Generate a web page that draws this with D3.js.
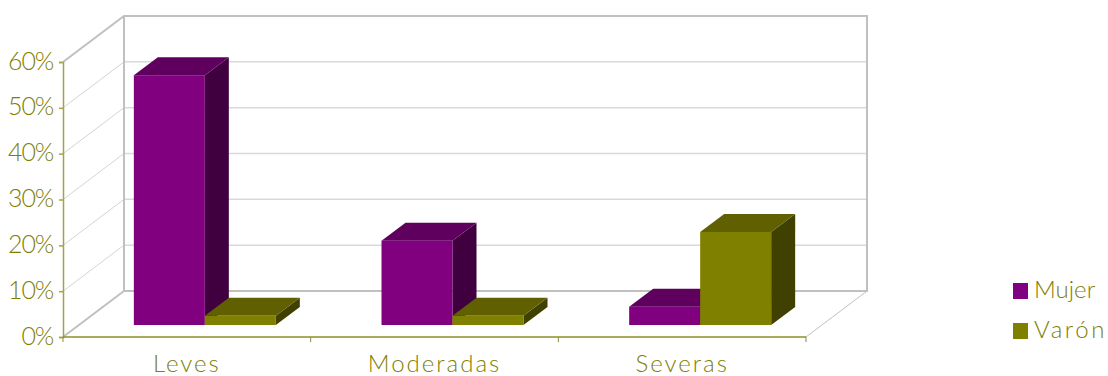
<!DOCTYPE html>
<html><head><meta charset="utf-8"><title>Chart</title>
<script src="https://cdn.jsdelivr.net/npm/d3@7/dist/d3.min.js"></script>
<style>html,body{margin:0;padding:0;background:#fff}svg{display:block}text{font-family:Lato,sans-serif;font-weight:300;fill:#808000}</style>
</head><body><svg id="c" width="1108" height="376"></svg>
<script>
const categories = ["Leves","Moderadas","Severas"];
const seriesNames = ["Mujer","Varón"];
const mujer = [54.5, 18.4, 4];
const varon = [2, 2, 20.3];
const yTicks = [0,10,20,30,40,50,60];
const colors = {Mujer:{front:"#800080",top:"#5f005f",side:"#400040"},"Varón":{front:"#808000",top:"#606000",side:"#404000"}};

const svg = d3.select("#c");
const L=63,R=806,B=337,T=62;
const wallDx=61,wallDy=46,barShiftX=18,barShiftY=12,depthX=24,depthY=18;
const x = d3.scaleBand().domain(categories).range([L,R]);
const inner = d3.scaleBand().domain(seriesNames).range([x.bandwidth()/2-71,x.bandwidth()/2+71]);
const y = d3.scaleLinear().domain([0,60]).range([B,T]);

// gridlines
const grid = svg.append("g");
yTicks.filter(d=>d>0&&d<60).forEach(d=>{
  grid.append("line").attr("x1",L).attr("y1",y(d)).attr("x2",L+wallDx).attr("y2",y(d)-wallDy).attr("stroke","#d4d4d4").attr("stroke-width",1);
});
yTicks.filter(d=>d>0).forEach(d=>{
  if(d===60) return;
  grid.append("line").attr("x1",L+wallDx).attr("y1",y(d)-wallDy).attr("x2",R+wallDx).attr("y2",y(d)-wallDy).attr("stroke","#d9d9d9").attr("stroke-width",1.5);
});
// walls
const wall = svg.append("g").attr("fill","none").attr("stroke","#c0c0c0");
wall.append("path").attr("stroke-width",2).attr("d",`M${L},${y(60)}L${L+wallDx},${y(60)-wallDy}H${R+wallDx}V${y(0)-wallDy}H${L+wallDx}V${y(60)-wallDy}`);
wall.append("path").attr("stroke-width",2).attr("d",`M${L},${y(0)}L${L+wallDx},${y(0)-wallDy}`);
wall.append("path").attr("stroke-width",1).attr("d",`M${R},${y(0)}L${R+wallDx},${y(0)-wallDy}`);

// bars
const rows = categories.flatMap((c,i)=>[{c,s:"Mujer",v:mujer[i]},{c,s:"Varón",v:varon[i]}]);
const bars = svg.append("g").selectAll("g").data(rows).join("g");
const bx = d=>x(d.c)+inner(d.s)+barShiftX, bw = inner.bandwidth();
const by = d=>y(d.v)-barShiftY, bb = ()=>y(0)-barShiftY;
bars.append("path").attr("fill",d=>colors[d.s].side)
  .attr("d",d=>`M${bx(d)+bw},${by(d)}l${depthX},${-depthY}V${bb()-depthY}l${-depthX},${depthY}Z`);
bars.append("path").attr("fill",d=>colors[d.s].top)
  .attr("d",d=>`M${bx(d)},${by(d)}l${depthX},${-depthY}h${bw}l${-depthX},${depthY}Z`);
bars.append("rect").attr("fill",d=>colors[d.s].front)
  .attr("x",bx).attr("y",by).attr("width",bw).attr("height",d=>bb()-by(d));

// axes
const axisY = svg.append("g").attr("transform",`translate(${L},0)`)
  .call(d3.axisLeft(y).tickValues(yTicks).tickFormat(d=>d+"%").tickSize(4).tickPadding(6));
axisY.selectAll("path,line").attr("stroke","#a3a34d").attr("stroke-width",1.5);
axisY.selectAll("text").attr("font-size",25).attr("dy","0.28em").attr("letter-spacing",-1.2);
const axisX = svg.append("g").attr("transform",`translate(0,${B})`)
  .call(d3.axisBottom(x).tickSize(0).tickPadding(17));
axisX.select("path").remove();
axisX.selectAll("text").attr("font-size",24).attr("dy","0.74em").attr("letter-spacing",2);
const boundaries = categories.map(c=>x(c)).concat([R]);
svg.append("g").selectAll("line").data(boundaries).join("line")
  .attr("x1",d=>d).attr("x2",d=>d).attr("y1",B).attr("y2",B+5).attr("stroke","#8f8f26").attr("stroke-width",1);
svg.append("line").attr("x1",L).attr("x2",R).attr("y1",B).attr("y2",B).attr("stroke","#8f8f26").attr("stroke-width",1.5);

// legend
const legend = svg.append("g").selectAll("g").data(seriesNames).join("g")
  .attr("transform",(d,i)=>`translate(1013,${283+i*40})`);
legend.append("rect").attr("width",15).attr("height",16).attr("fill",d=>colors[d].front);
legend.append("text").attr("x",21).attr("y",15).attr("font-size",24).attr("letter-spacing",(d,i)=>i?2.6:0).text(d=>d);
</script></body></html>
